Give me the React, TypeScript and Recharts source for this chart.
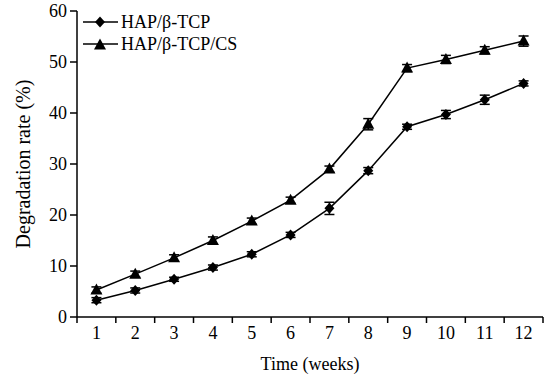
import { LineChart, Line, XAxis, YAxis, ErrorBar, Legend, Label } from 'recharts';

const weeks = [1, 2, 3, 4, 5, 6, 7, 8, 9, 10, 11, 12];
const tickMarks = [0.5, 1.5, 2.5, 3.5, 4.5, 5.5, 6.5, 7.5, 8.5, 9.5, 10.5, 11.5, 12.5];
const yTicks = [0, 10, 20, 30, 40, 50, 60];

const hapTcp = [3.3, 5.2, 7.4, 9.7, 12.3, 16.1, 21.3, 28.7, 37.3, 39.7, 42.6, 45.8];
const hapTcpErr = [0.5, 0.5, 0.4, 0.5, 0.5, 0.5, 1.2, 0.6, 0.5, 0.8, 0.9, 0.5];
const hapTcpCs = [5.3, 8.4, 11.6, 15.0, 18.8, 22.9, 29.0, 37.8, 48.8, 50.5, 52.3, 54.1];
const hapTcpCsErr = [0.6, 0.6, 0.6, 0.7, 0.6, 0.6, 0.6, 1.1, 0.7, 0.8, 0.7, 1.0];

const data = weeks.map((w, i) => ({
  week: w,
  a: hapTcp[i],
  aErr: hapTcpErr[i],
  b: hapTcpCs[i],
  bErr: hapTcpCsErr[i],
}));

const FONT = '"Liberation Serif", "Times New Roman", serif';
const INK = '#000';

function Diamond({ cx, cy }: { cx: number; cy: number }) {
  return (
    <polygon
      points={`${cx},${cy - 5.5} ${cx + 5},${cy} ${cx},${cy + 5.5} ${cx - 5},${cy}`}
      fill={INK}
    />
  );
}

function Triangle({ cx, cy }: { cx: number; cy: number }) {
  return (
    <polygon
      points={`${cx},${cy - 6.5} ${cx + 6},${cy + 4.5} ${cx - 6},${cy + 4.5}`}
      fill={INK}
    />
  );
}

// integer ticks get a label, half ticks get the tick mark between weeks
function XTick(props: any) {
  const { x, y, payload } = props;
  const v = payload.value;
  if (Number.isInteger(v)) {
    return (
      <text x={x} y={y + 22} textAnchor="middle" fontSize={18} fontFamily={FONT} fill={INK}>
        {v}
      </text>
    );
  }
  return <line x1={x} y1={y} x2={x} y2={y + 6} stroke={INK} strokeWidth={1.5} />;
}

function renderLegend(props: any) {
  const { payload } = props;
  return (
    <div style={{ fontFamily: FONT, fontSize: 18, color: INK, lineHeight: '22px' }}>
      {payload.map((p: any) => (
        <div key={p.dataKey} style={{ display: 'flex', alignItems: 'center', height: 22 }}>
          <svg width={38} height={16} style={{ marginRight: 1 }}>
            <line x1={1} y1={8} x2={36} y2={8} stroke={INK} strokeWidth={1.5} />
            {p.dataKey === 'a' ? <Diamond cx={18} cy={8} /> : <Triangle cx={18} cy={9} />}
          </svg>
          <span>{p.value}</span>
        </div>
      ))}
    </div>
  );
}

export default function App() {
  return (
    <div style={{ position: 'absolute', left: 0, top: 0, background: '#fff' }}>
      <LineChart
        width={544}
        height={385}
        data={data}
        margin={{ top: 11, right: 1, bottom: 0, left: 0 }}
      >
        <XAxis
          dataKey="week"
          type="number"
          domain={[0.5, 12.5]}
          ticks={[...tickMarks, ...weeks].sort((p, q) => p - q)}
          interval={0}
          height={68}
          tickSize={0}
          tickMargin={0}
          tickLine={false}
          tick={<XTick />}
          axisLine={{ stroke: INK, strokeWidth: 1.5 }}
        >
          <Label
            value="Time (weeks)"
            position="insideBottom"
            offset={15}
            style={{ fontFamily: FONT, fontSize: 18, fill: INK }}
          />
        </XAxis>
        <YAxis
          type="number"
          domain={[0, 60]}
          ticks={yTicks}
          interval={0}
          width={77}
          tickSize={7}
          tickMargin={3}
          tick={{ fontFamily: FONT, fontSize: 18, fill: INK }}
          tickLine={{ stroke: INK, strokeWidth: 1.5 }}
          axisLine={{ stroke: INK, strokeWidth: 1.5 }}
        >
          <Label
            value="Degradation rate (%)"
            angle={-90}
            position="insideLeft"
            offset={23}
            style={{ fontFamily: FONT, fontSize: 20, fill: INK, textAnchor: 'middle' }}
          />
        </YAxis>
        <Legend
          layout="vertical"
          align="center"
          verticalAlign="middle"
          content={renderLegend}
          wrapperStyle={{ top: 11, left: 82, width: 'auto', height: 'auto' }}
        />
        <Line
          dataKey="a"
          name="HAP/β-TCP"
          stroke={INK}
          strokeWidth={1.5}
          isAnimationActive={false}
          dot={(p: any) => <Diamond key={`a${p.index}`} cx={p.cx} cy={p.cy} />}
          activeDot={false}
        >
          <ErrorBar dataKey="aErr" width={5} stroke={INK} strokeWidth={1.5} direction="y" />
        </Line>
        <Line
          dataKey="b"
          name="HAP/β-TCP/CS"
          stroke={INK}
          strokeWidth={1.5}
          isAnimationActive={false}
          dot={(p: any) => <Triangle key={`b${p.index}`} cx={p.cx} cy={p.cy} />}
          activeDot={false}
        >
          <ErrorBar dataKey="bErr" width={5} stroke={INK} strokeWidth={1.5} direction="y" />
        </Line>
      </LineChart>
    </div>
  );
}
